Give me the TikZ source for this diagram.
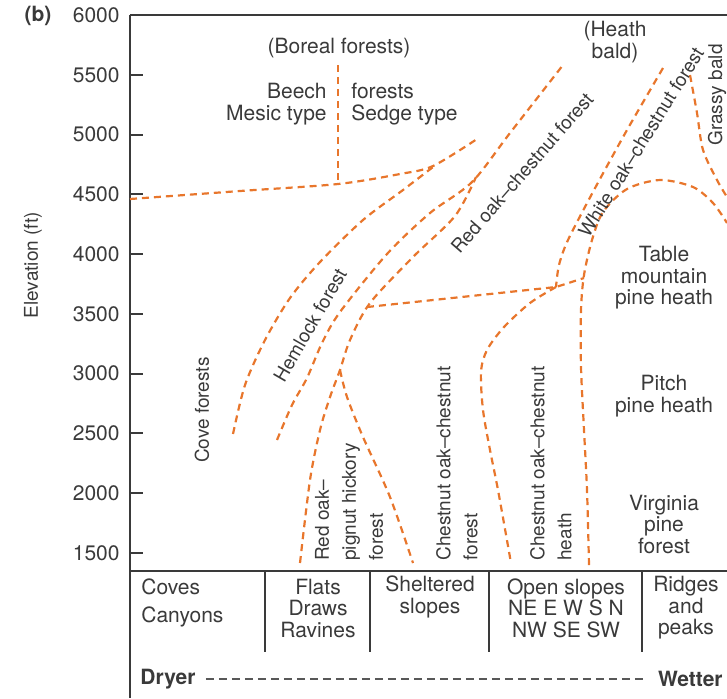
\documentclass[tikz,border=0pt]{standalone}
\usepackage{fontspec}
\setmainfont{TeX Gyre Heros}
\definecolor{zone}{RGB}{232,118,44}
\definecolor{ink}{RGB}{58,58,58}

\begin{document}
\begin{tikzpicture}[
  x=0.5pt, y=-0.5pt,
  every node/.style={inner sep=1pt, text=ink},
  txt/.style={font=\fontsize{10.5}{10.75}\selectfont, align=center},
  slant/.style={font=\fontsize{9.5}{11}\selectfont},
  vtxt/.style={font=\fontsize{9.5}{13.5}\selectfont, rotate=90, align=left, anchor=west},
  ticklab/.style={font=\fontsize{10.5}{11}\selectfont, anchor=east},
  frame/.style={draw=ink, line width=1pt},
  border/.style={draw=zone, line width=1.1pt, dash pattern=on 3.5pt off 2.5pt},
  gradient/.style={draw=ink!85, line width=0.7pt, dash pattern=on 4pt off 2.5pt}]

  \useasboundingbox (0,0) rectangle (727,698);

  % axes and ticks
  \draw[frame] (130,15) -- (727,15);
  \draw[frame] (130,15) -- (130,698);
  \foreach \e in {1500,2000,...,5500}
    \draw[frame] (130,{15+(6000-\e)*0.1195}) -- (143,{15+(6000-\e)*0.1195});
  \foreach \e in {1500,2000,...,6000}
    \node[ticklab] (t\e) at (122,{15+(6000-\e)*0.1195}) {\e};
  \node[font=\fontsize{10.5}{11}\selectfont\bfseries] (panel) at (38,16) {(b)};
  \node[font=\fontsize{9.5}{11}\selectfont, rotate=90] (ylab) at (33,265) {Elevation (ft)};

  % zone boundaries
  \draw[border] plot[smooth] coordinates {(130,199) (240,191) (338,184) (400,174) (433,166) (477,139)};
  \draw[border] (338,65) -- (338,184);
  \draw[border] plot[smooth] coordinates {(233,434) (245,385) (265,340) (290,298) (320,262) (363,220) (403,190) (433,167)};
  \draw[border] plot[smooth] coordinates {(277,440) (292,405) (307,378) (322,343) (340,312) (387,254) (430,213) (472,182) (510,133) (563,65)};
  \draw[border] plot[smooth] coordinates {(300,563) (310,480) (320,430) (330,397) (340,370) (350,340) (370,303) (413,257) (455,216) (476,177)};
  \draw[border] plot[smooth] coordinates {(340,370) (347,397) (363,437) (390,497) (413,563)};
  \draw[border] (367,307) -- (556,287) -- (584,278);
  \draw[border] plot[smooth] coordinates {(556,287) (530,303) (504,327) (487,350) (481,372) (483,410) (490,450) (498,490) (511,563)};
  \draw[border] plot[smooth] coordinates {(663,68) (627,130) (594,190) (568,240) (559,265) (556,287)};
  \draw[border] plot[smooth] coordinates {(589,565) (587,490) (584,430) (581,367) (581,310) (584,275) (592,240) (603,212) (627,189) (660,180) (693,187) (713,203) (727,223)};
  \draw[border] plot[smooth] coordinates {(690,75) (697,113) (703,150) (717,180) (727,197)};

  % zone labels
  \node[txt] (boreal) at (339,48) {(Boreal forests)};
  \node[txt, anchor=east] (beech) at (329,91) {Beech};
  \node[txt, anchor=east] (mesic) at (329,115) {Mesic type};
  \node[txt, anchor=west] (forests) at (349,91) {forests};
  \node[txt, anchor=west] (sedge) at (349,115) {Sedge type};
  \node[txt] (heathbald) at (615,42) {(Heath\\bald)};
  \node[slant, rotate=90] (grassy) at (717,95) {Grassy bald};
  \node[slant, rotate=90] (cove) at (202,410) {Cove forests};
  \node[slant, rotate=60] (hemlock) at (310,325) {Hemlock forest};
  \node[slant, rotate=49] (redoak) at (522,173) {Red oak--chestnut forest};
  \node[slant, rotate=58] (whiteoak) at (641,142) {White oak--chestnut forest};
  \node[txt] (table) at (664,278) {Table\\mountain\\pine heath};
  \node[txt] (pitch) at (664,396) {Pitch\\pine heath};
  \node[txt] (virginia) at (664,524) {Virginia\\pine\\forest};
  \node[vtxt] (pignut) at (349,563) {Red oak--\\pignut hickory\\forest};
  \node[vtxt] (chestfor) at (457,563) {Chestnut oak--chestnut\\forest};
  \node[vtxt] (chestheath) at (551,563) {Chestnut oak--chestnut\\heath};

  % landform table
  \draw[frame] (130,571) -- (727,571);
  \foreach \x in {265,370,489,642}
    \draw[frame] (\x,571) -- (\x,652);
  \node[txt, anchor=west] (coves) at (139,587) {Coves};
  \node[txt, anchor=west] (canyons) at (139,617) {Canyons};
  \node[txt] (flats) at (318,608) {Flats\\Draws\\Ravines};
  \node[txt] (sheltered) at (430,597) {Sheltered\\slopes};
  \node[txt] (open) at (566,608) {Open slopes\\NE E W S N\\NW SE SW};
  \node[txt] (ridges) at (686,608) {Ridges\\and\\peaks};

  % moisture gradient
  \node[font=\fontsize{10.5}{11}\selectfont\bfseries, anchor=west] (dryer) at (138,679) {Dryer};
  \node[font=\fontsize{10.5}{11}\selectfont\bfseries, anchor=east] (wetter) at (725,679) {Wetter};
  \draw[gradient] ([xshift=4pt]dryer.east) -- ([xshift=-5pt]wetter.west);
\end{tikzpicture}
\end{document}
